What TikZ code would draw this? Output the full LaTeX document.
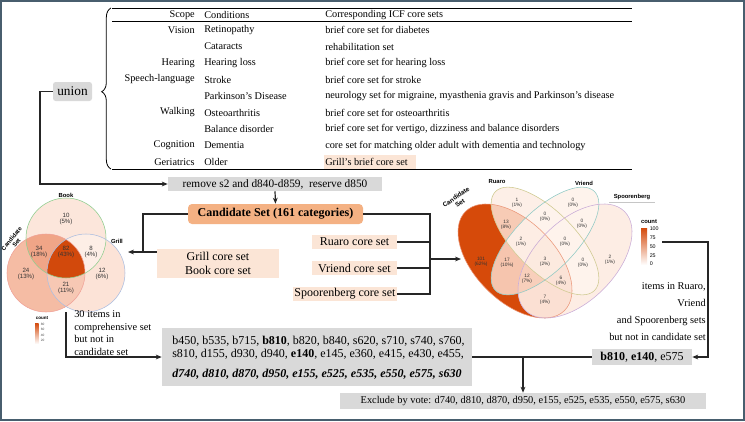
\documentclass[tikz,border=0pt]{standalone}
\usepackage{fontspec}
\setmainfont{Liberation Serif}
\newfontfamily\vsans{Liberation Sans}
\usetikzlibrary{arrows.meta,decorations.pathreplacing,calc}
\definecolor{peach}{RGB}{251,229,214}
\definecolor{candor}{RGB}{244,177,131}
\definecolor{gbox}{RGB}{217,217,217}
\definecolor{frm}{RGB}{72,94,110}
\definecolor{vdark}{RGB}{212,74,12}
% left venn colours
\definecolor{lc82}{RGB}{210,73,12}
\definecolor{lc34}{RGB}{240,165,135}
\definecolor{lc24}{RGB}{245,188,164}
\definecolor{lc21}{RGB}{247,200,180}
\definecolor{lc12}{RGB}{252,227,215}
\definecolor{lc10}{RGB}{252,230,219}
\definecolor{lc8}{RGB}{253,238,230}
% right venn colours
\definecolor{rc101}{RGB}{214,74,10}
\definecolor{rc17}{RGB}{246,197,174}
\definecolor{rc13}{RGB}{247,203,181}
\definecolor{rc12}{RGB}{248,207,187}
\definecolor{rc7}{RGB}{251,224,211}
\definecolor{rc6}{RGB}{251,226,214}
\definecolor{rc3}{RGB}{252,234,223}
\definecolor{rc2}{RGB}{253,237,228}
\definecolor{rc1}{RGB}{253,239,231}
\definecolor{rc0}{RGB}{254,243,236}
\newcommand\lvC{(46,273) circle (39)}
\newcommand\lvB{(66,238) circle (40)}
\newcommand\lvG{(86,273) circle (39)}
\newcommand\rvA{(515,261) ellipse (70 and 40)}
\newcommand\rvB{(545,241) ellipse (70 and 30)}
\newcommand\rvC{(545,241) ellipse (70 and 30)}
\newcommand\rvD{(575,261) ellipse (70 and 40)}
\begin{document}
\begin{tikzpicture}[x=0.75pt,y=-0.75pt,
  tx/.style={inner sep=0pt, font=\fontsize{7.7}{9}\selectfont},
  sc/.style={tx, anchor=east},
  cdn/.style={tx, anchor=west},
  conn/.style={draw=black!85, line width=0.9pt},
  arr/.style={conn, -{Stealth[length=4.5pt,width=3.6pt]}},
  gbx/.style={fill=gbox, inner sep=0pt},
  pbx/.style={fill=peach, inner sep=0pt, font=\fontsize{9}{11}\selectfont, align=center},
  vnum/.style={font=\vsans\fontsize{4.6}{5}\selectfont, align=center, inner sep=0pt, text=black!80},
  rnum/.style={font=\vsans\fontsize{3.6}{4.1}\selectfont, align=center, inner sep=0pt, text=black!80},
  vset/.style={font=\vsans\bfseries\fontsize{4.4}{4.8}\selectfont, inner sep=0pt, align=center},
  eA/.style={rotate around={-45:(515,261)}},
  eB/.style={rotate around={-45:(545,241)}},
  eC/.style={rotate around={45:(545,241)}},
  eD/.style={rotate around={45:(575,261)}},
  small/.style={inner sep=0pt, font=\fontsize{7.8}{9.4}\selectfont}
]
\useasboundingbox (0,0) rectangle (745,421);
\fill[white] (0,0) rectangle (745,421);
\draw[frm, line width=1.5pt] (1,1) rectangle (744,420);

% ---------------- table ----------------
\draw[line width=0.7pt] (112,8) -- (632,8);
\draw[line width=0.5pt] (112,21.5) -- (632,21.5);
\draw[line width=0.7pt] (112,169) -- (632,169);
\draw[line width=0.6pt, decorate, decoration={brace, amplitude=7pt, aspect=0.48}] (111,169) -- (111,8);
\fill[peach] (324,154.5) rectangle (416,168.5);
\node[sc] (h1) at (195,15) {Scope};
\node[cdn] (h2) at (204,15) {Conditions};
\node[cdn] (h3) at (325,15) {Corresponding ICF core sets};
\node[sc] (s1) at (195,30) {Vision};
\node[cdn] (c1) at (204,30) {Retinopathy};
\node[cdn] (i1) at (325,30) {brief core set for diabetes};
\node[cdn] (c2) at (204,46.5) {Cataracts};
\node[cdn] (i2) at (325,46.5) {rehabilitation set};
\node[sc] (s3) at (195,63) {Hearing};
\node[cdn] (c3) at (204,63) {Hearing loss};
\node[cdn] (i3) at (325,63) {brief core set for hearing loss};
\node[sc] (s4) at (195,79.5) {Speech-language};
\node[cdn] (c4) at (204,79.5) {Stroke};
\node[cdn] (i4) at (325,79.5) {brief core set for stroke};
\node[cdn] (c5) at (204,96) {Parkinson’s Disease};
\node[cdn] (i5) at (325,96) {neurology set for migraine, myasthenia gravis and Parkinson’s disease};
\node[sc] (s6) at (195,112.5) {Walking};
\node[cdn] (c6) at (204,112.5) {Osteoarthritis};
\node[cdn] (i6) at (325,112.5) {brief core set for osteoarthritis};
\node[cdn] (c7) at (204,129) {Balance disorder};
\node[cdn] (i7) at (325,129) {brief core set for vertigo, dizziness and balance disorders};
\node[sc] (s8) at (195,145.5) {Cognition};
\node[cdn] (c8) at (204,145.5) {Dementia};
\node[cdn] (i8) at (325,145.5) {core set for matching older adult with dementia and technology};
\node[sc] (s9) at (195,162) {Geriatrics};
\node[cdn] (c9) at (204,162) {Older};
\node[cdn] (i9) at (325,162) {Grill’s brief core set};

% ---------------- left venn ----------------
\fill[lc24] \lvC;
\fill[lc10] \lvB;
\fill[lc12] \lvG;
\begin{scope}\clip \lvC; \fill[lc34] \lvB; \end{scope}
\begin{scope}\clip \lvC; \fill[lc21] \lvG; \end{scope}
\begin{scope}\clip \lvB; \fill[lc8] \lvG; \end{scope}
\begin{scope}\clip \lvC; \clip \lvB; \fill[lc82] \lvG; \end{scope}
\draw[draw={rgb,255:red,240;green,160;blue,150}, line width=0.4pt] \lvC;
\draw[draw={rgb,255:red,140;green,205;blue,140}, line width=0.4pt] \lvB;
\draw[draw={rgb,255:red,168;green,188;blue,224}, line width=0.4pt] \lvG;
\node[vnum] (l10) at (66,219) {10\\(5\%)};
\node[vnum] (l34) at (39,252) {34\\(18\%)};
\node[vnum] (l82) at (66,252) {82\\(43\%)};
\node[vnum] (l8) at (91,252) {8\\(4\%)};
\node[vnum] (l24) at (26,274) {24\\(13\%)};
\node[vnum] (l12) at (102,274) {12\\(6\%)};
\node[vnum] (l21) at (66,288) {21\\(11\%)};
\node[vset] (lbook) at (66,195) {Book};
\node[vset] (lgrill) at (117,241) {Grill};
\node[vset, rotate=50] (lcand) at (14,241) {Candidate\\Set};
% left legend
\node[vset, font=\vsans\bfseries\fontsize{3.4}{4}\selectfont] (llegt) at (42,318) {count};
\shade[top color=vdark, bottom color=white] (35,323) rectangle (38.5,344);
\node[font=\vsans\fontsize{2.4}{3}\selectfont, inner sep=0pt, anchor=west, text=black!70] (ll80) at (40.5,324) {80};
\node[font=\vsans\fontsize{2.4}{3}\selectfont, inner sep=0pt, anchor=west, text=black!70] (ll60) at (40.5,329.5) {60};
\node[font=\vsans\fontsize{2.4}{3}\selectfont, inner sep=0pt, anchor=west, text=black!70] (ll40) at (40.5,335) {40};
\node[font=\vsans\fontsize{2.4}{3}\selectfont, inner sep=0pt, anchor=west, text=black!70] (ll20) at (40.5,340.5) {20};

% ---------------- right venn ----------------
\fill[eA, rc101] \rvA;
\fill[eB, rc1] \rvB;
\fill[eC, rc0] \rvC;
\fill[eD, rc2] \rvD;
\begin{scope}\clip[eA] \rvA; \fill[eB, rc13] \rvB; \end{scope}
\begin{scope}\clip[eA] \rvA; \fill[eC, rc17] \rvC; \end{scope}
\begin{scope}\clip[eA] \rvA; \fill[eD, rc7] \rvD; \end{scope}
\begin{scope}\clip[eB] \rvB; \fill[eC, rc0] \rvC; \end{scope}
\begin{scope}\clip[eB] \rvB; \fill[eD, rc0] \rvD; \end{scope}
\begin{scope}\clip[eC] \rvC; \fill[eD, rc0] \rvD; \end{scope}
\begin{scope}\clip[eA] \rvA; \clip[eB] \rvB; \fill[eC, rc2] \rvC; \end{scope}
\begin{scope}\clip[eA] \rvA; \clip[eB] \rvB; \fill[eD, rc6] \rvD; \end{scope}
\begin{scope}\clip[eA] \rvA; \clip[eC] \rvC; \fill[eD, rc12] \rvD; \end{scope}
\begin{scope}\clip[eB] \rvB; \clip[eC] \rvC; \fill[eD, rc0] \rvD; \end{scope}
\begin{scope}\clip[eA] \rvA; \clip[eB] \rvB; \clip[eC] \rvC; \fill[eD, rc3] \rvD; \end{scope}
\draw[eA, draw={rgb,255:red,235;green,150;blue,120}, line width=0.4pt] \rvA;
\draw[eB, draw={rgb,255:red,205;green,200;blue,140}, line width=0.4pt] \rvB;
\draw[eC, draw={rgb,255:red,140;green,200;blue,195}, line width=0.4pt] \rvC;
\draw[eD, draw={rgb,255:red,200;green,170;blue,215}, line width=0.4pt] \rvD;
\node[rnum] (r101) at (481,262) {101\\(62\%)};
\node[rnum] (r13) at (506,225) {13\\(8\%)};
\node[rnum] (r1) at (517,203) {1\\(1\%)};
\node[rnum] (r0a) at (573,203) {0\\(0\%)};
\node[rnum] (r0b) at (545,217) {0\\(0\%)};
\node[rnum] (r0c) at (582,224) {0\\(0\%)};
\node[rnum] (r2a) at (521,242) {2\\(1\%)};
\node[rnum] (r0d) at (565,242) {0\\(0\%)};
\node[rnum] (r3) at (545,262) {3\\(2\%)};
\node[rnum] (r17) at (507,263) {17\\(10\%)};
\node[rnum] (r0e) at (583,263) {0\\(0\%)};
\node[rnum] (r2b) at (610,260) {2\\(1\%)};
\node[rnum] (r12) at (527,279) {12\\(7\%)};
\node[rnum] (r6) at (561,281) {6\\(4\%)};
\node[rnum] (r7) at (545,300) {7\\(4\%)};
\node[vset] (rruaro) at (497,182) {Ruaro};
\node[vset] (rvriend) at (584,183) {Vriend};
\node[vset] (rspoor) at (632,197) {Spoorenberg};
\draw[gray!45, line width=0.4pt] (609,202) -- (655,202);
\node[vset, font=\vsans\bfseries\fontsize{4.8}{5.2}\selectfont, rotate=35] (rcand) at (458,200) {Candidate\\Set};
% right legend
\node[vset, font=\vsans\bfseries\fontsize{4.4}{5}\selectfont] (rlegt) at (649,222) {count};
\shade[top color=vdark, bottom color=white] (641,228) rectangle (647,265);
\node[font=\vsans\fontsize{4}{4.5}\selectfont, inner sep=0pt, anchor=west] (rl100) at (649.5,229) {100};
\node[font=\vsans\fontsize{4}{4.5}\selectfont, inner sep=0pt, anchor=west] (rl75) at (649.5,238) {75};
\node[font=\vsans\fontsize{4}{4.5}\selectfont, inner sep=0pt, anchor=west] (rl50) at (649.5,246.5) {50};
\node[font=\vsans\fontsize{4}{4.5}\selectfont, inner sep=0pt, anchor=west] (rl25) at (649.5,255.5) {25};
\node[font=\vsans\fontsize{4}{4.5}\selectfont, inner sep=0pt, anchor=west] (rl0) at (649.5,264) {0};

% ---------------- boxes ----------------
\node[gbx, rounded corners=2pt, minimum width=29.25pt, minimum height=14.25pt, font=\fontsize{10}{12}\selectfont] (union) at (72.5,91.5) {union};
\node[gbx, minimum width=160.5pt, minimum height=10.5pt, font=\fontsize{8.5}{10}\selectfont] (remove) at (275,184) {remove s2 and d840-d859,\ \ reserve d850};
\node[fill=candor, rounded corners=3pt, inner sep=0pt, minimum width=131.25pt, minimum height=15pt, font=\bfseries\fontsize{9}{11}\selectfont] (cand) at (275.5,214) {Candidate Set (161 categories)};
\node[pbx, minimum width=91.5pt, minimum height=21.75pt] (grillbox) at (218,263.5) {Grill core set\\Book core set};
\node[pbx, minimum width=63.75pt, minimum height=10.5pt] (ruaro) at (354.5,242) {Ruaro core set};
\node[pbx, minimum width=63.75pt, minimum height=10.5pt] (vriend) at (354.5,268) {Vriend core set};
\node[pbx, minimum width=78pt, minimum height=10.5pt] (spoor) at (345,294) {Spoorenberg core set};
\node[gbx, minimum width=232.5pt, minimum height=43.5pt] (bigbox) at (317,357) {};
\node[tx, font=\fontsize{9}{11}\selectfont, anchor=west] (bl1) at (172,341) {b450, b535, b715, \textbf{b810}, b820, b840, s620, s710, s740, s760,};
\node[tx, font=\fontsize{9}{11}\selectfont, anchor=west] (bl2) at (172,354.5) {s810, d155, d930, d940, \textbf{e140}, e145, e360, e415, e430, e455,};
\node[tx, font=\bfseries\itshape\fontsize{9}{11}\selectfont, anchor=west] (bl3) at (172,374) {d740, d810, d870, d950, e155, e525, e535, e550, e575, s630};
\node[gbx, minimum width=75pt, minimum height=12pt, font=\fontsize{9}{11}\selectfont] (bbox) at (642,357) {\textbf{b810}, \textbf{e140}, e575};
\node[gbx, minimum width=274.5pt, minimum height=12pt, font=\fontsize{7.8}{9}\selectfont] (excl) at (523,401) {Exclude by vote: d740, d810, d870, d950, e155, e525, e535, e550, e575, s630};

% texts
\node[small, anchor=north west, align=left] (t30) at (74,310.5) {30 items in\\comprehensive set\\but not in\\candidate set};
\node[small, anchor=north east, align=right, font=\fontsize{7.8}{12.6}\selectfont] (titems) at (706,282.5) {items in Ruaro,\\Vriend\\and Spoorenberg sets\\but not in candidate set};

% ---------------- connectors ----------------
\coordinate (u1) at (40,91.5);
\draw[arr] (union.west) -- (u1) |- (remove.west);
\draw[arr] (remove.south) -- (cand.north);
\coordinate (jL) at (143,252);
\coordinate (lvTip) at (128,252);
\draw[conn] (cand.west) -| (jL);
\draw[conn] (grillbox.west |- jL) -- (jL);
\draw[arr] (jL) -- (lvTip);
\coordinate (jR) at (430,259);
\coordinate (rvTip) at (461,259);
\draw[conn] (cand.east) -| (430,294) -- (spoor.east);
\draw[conn] (ruaro.east) -- (ruaro.east -| jR);
\draw[conn] (vriend.east) -- (vriend.east -| jR);
\draw[arr] (jR) -- (rvTip);
\coordinate (lvBot) at (66,312);
\draw[arr] (lvBot) |- (bigbox.west);
\draw[conn] (bigbox.east) -- (bbox.west);
\coordinate (jB) at (523,357);
\draw[arr] (jB) -- (excl.north);
\coordinate (rleg) at (662,242);
\draw[arr] (rleg) -- (708,242) |- (bbox.east);
\end{tikzpicture}
\end{document}
